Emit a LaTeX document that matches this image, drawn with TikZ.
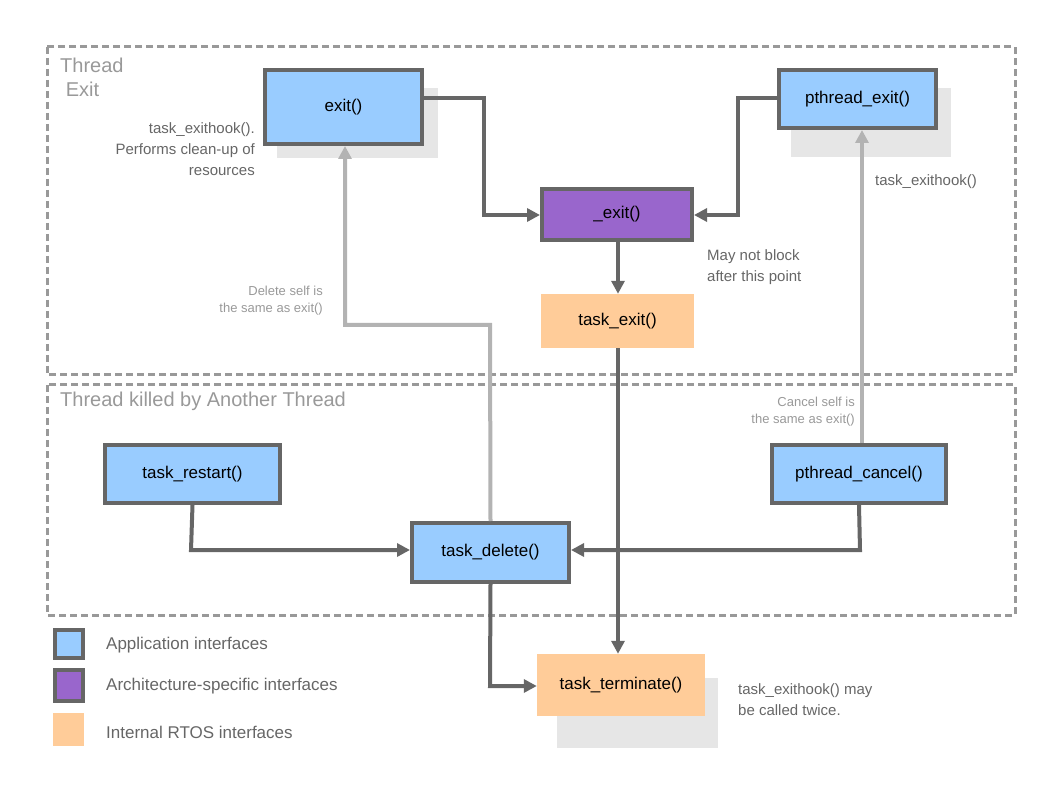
\documentclass[tikz,border=0pt]{standalone}
\usepackage{fontspec}
\setmainfont{Liberation Sans}
\usetikzlibrary{arrows.meta}
\definecolor{blu}{HTML}{99CCFF}
\definecolor{pur}{HTML}{9966CC}
\definecolor{ora}{HTML}{FFCC99}
\definecolor{dk}{HTML}{666666}
\definecolor{lt}{HTML}{B3B3B3}
\definecolor{shd}{HTML}{E6E6E6}
\definecolor{dsh}{HTML}{999999}
\tikzset{
 box/.style={draw=dk,line width=4pt,inner sep=0pt},
 obox/.style={inner sep=0pt},
 lbl/.style={font=\fontsize{17}{20}\selectfont,text=black},
 note/.style={font=\fontsize{15}{21}\selectfont,text=dk,inner sep=0pt,align=left},
 snote/.style={font=\fontsize{13}{17}\selectfont,text=dsh,inner sep=0pt,align=right},
 dkarr/.style={draw=dk,line width=4pt,-{Triangle[length=13pt,width=13pt]}},
 ltarr/.style={draw=lt,line width=4pt,-{Triangle[length=13pt,width=13pt]}},
 frame/.style={draw=dsh,line width=3pt,dash pattern=on 7pt off 4pt},
 grp/.style={font=\fontsize{20}{24}\selectfont,text=dsh,inner sep=0pt,align=left,anchor=north west}
}
\begin{document}
\begin{tikzpicture}[x=1pt,y=-1pt]
\useasboundingbox (0,0) rectangle (1058,794);
\draw[frame] (47,47) rectangle (1015,375);
\draw[frame] (47,385) rectangle (1015,615);
\node[grp] (g1) at (60,58) {Thread\\\ Exit};
\node[grp] (g2) at (60,392) {Thread killed by Another Thread};
% shadows
\fill[shd] (277,88) rectangle (438,158);
\fill[shd] (791,88) rectangle (951,157);
\fill[shd] (557,678) rectangle (718,748);
% boxes
\node[box,fill=blu,minimum width=157pt,minimum height=74pt] (exit) at (343.5,107) {};
\node[lbl] at (exit) {exit()};
\node[box,fill=blu,minimum width=157pt,minimum height=58pt] (pexit) at (857.5,99) {};
\node[lbl] at (pexit) {pthread\_exit()};
\node[box,fill=pur,minimum width=150pt,minimum height=51pt] (uexit) at (617,214.5) {};
\node[lbl] at (uexit) {\_exit()};
\node[obox,fill=ora,minimum width=153pt,minimum height=54pt] (texit) at (617.5,321) {};
\node[lbl] at (texit) {task\_exit()};
\node[box,fill=blu,minimum width=175pt,minimum height=58pt] (trest) at (192.5,474) {};
\node[lbl] at (trest) {task\_restart()};
\node[box,fill=blu,minimum width=174pt,minimum height=58pt] (pcan) at (859,474) {};
\node[lbl] at (pcan) {pthread\_cancel()};
\node[box,fill=blu,minimum width=157pt,minimum height=59pt] (tdel) at (490.5,552.5) {};
\node[lbl] at (tdel) {task\_delete()};
\node[obox,fill=ora,minimum width=168pt,minimum height=62pt] (tterm) at (621,685) {};
\node[lbl] at (tterm) {task\_terminate()};
% dark arrows
\draw[dkarr] (exit.east |- 0,98) -- (484,98) -- (484,215) -- (uexit.west |- 0,215);
\draw[dkarr] (pexit.west |- 0,98) -- (738,98) -- (738,215) -- (uexit.east |- 0,215);
\draw[dkarr] (uexit.south -| 618,0) -- (texit.north -| 618,0);
\draw[dkarr] (texit.south -| 618,0) -- (tterm.north -| 618,0);
\draw[dkarr] (trest.south) -- (191,550) -- (tdel.west |- 0,550);
\draw[dkarr] (pcan.south) -- (860,550) -- (tdel.east |- 0,550);
\draw[dkarr] (tdel.south) -- (490,686) -- (tterm.west |- 0,686);
% light arrows
\draw[ltarr] (tdel.north) -- (490,325) -- (345,325) -- (exit.south -| 345,0);
\draw[ltarr] (pcan.north -| 862,0) -- (pexit.south -| 862,0);
% notes
\node[note,align=right,anchor=north east] (n1) at (255,122) {task\_exithook().\\Performs clean-up of\\resources};
\node[note,anchor=north west] (n2) at (875,174) {task\_exithook()};
\node[note,anchor=north west] (n3) at (707,249) {May not block\\after this point};
\node[snote,anchor=north east] (n4) at (323,286) {Delete self is\\the same as exit()};
\node[snote,anchor=north east] (n5) at (855,397) {Cancel self is\\the same as exit()};
\node[note,anchor=north west] (n6) at (738,683) {task\_exithook() may\\be called twice.};
% legend
\node[box,fill=blu,minimum width=28pt,minimum height=28pt] (l1) at (68.5,643.5) {};
\node[box,fill=pur,minimum width=28pt,minimum height=31pt] (l2) at (68.5,685.5) {};
\node[obox,fill=ora,minimum width=31pt,minimum height=33pt] (l3) at (68.5,729.5) {};
\node[note,font=\fontsize{17}{20}\selectfont,anchor=west] at (106,645) {Application interfaces};
\node[note,font=\fontsize{17}{20}\selectfont,anchor=west] at (106,686) {Architecture-specific interfaces};
\node[note,font=\fontsize{17}{20}\selectfont,anchor=west] at (106,732) {Internal RTOS interfaces};
\end{tikzpicture}
\end{document}
